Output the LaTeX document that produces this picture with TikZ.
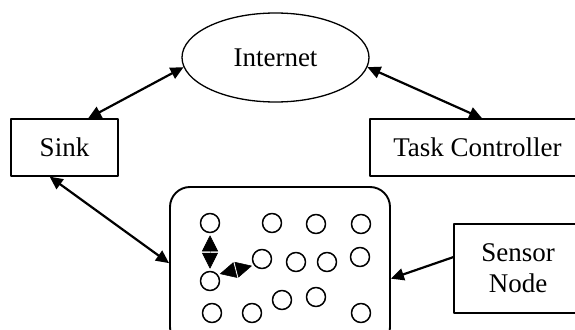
\documentclass[tikz,border=0pt]{standalone}
\usepackage{fontspec}
\setmainfont{Liberation Serif}
\usetikzlibrary{arrows.meta}
\usetikzlibrary{shapes.geometric}
\usetikzlibrary{positioning}

\begin{document}
\begin{tikzpicture}[
		x=1pt, y=-1pt,
		line join=round,
		every node/.style={font=\fontsize{27}{31}\selectfont, inner sep=0pt},
		box/.style={draw, rectangle, line width=1.3pt},
		mote/.style={draw, circle, line width=1.5pt, minimum size=19pt},
		link/.style={{Triangle[length=13pt,width=12pt]}-{Triangle[length=13pt,width=12pt]}, line width=2.2pt},
		feed/.style={-{Triangle[length=13pt,width=12pt]}, line width=2.2pt},
		hop/.style={{Triangle[length=16pt,width=16pt,color=black]}-{Triangle[length=16pt,width=16pt,color=black]}, line width=0.5pt, gray!70, dashed, shorten <=2pt, shorten >=2pt}
	]
	\useasboundingbox (0,0) rectangle (575,329);

	% Top level
	\node[draw, ellipse, line width=1.3pt, minimum width=187pt, minimum height=89pt] (internet) at (275.5,57.5) {Internet};
	\node[box, minimum width=107pt, minimum height=57pt] (sink) at (64.5,147.5) {Sink};
	\node[box, minimum width=215pt, minimum height=57pt] (task) at (477.5,147.5) {Task Controller};

	% Sensor field
	\node[draw, rounded corners=20pt, line width=1.9pt, minimum width=220pt, minimum height=160pt] (field) at (280,267) {};
	\node[box, align=center, minimum width=128pt, minimum height=89pt] (sensor) at (518,268.5) {Sensor\\Node};

	% Motes
	\foreach \n/\x/\y in {
			1/210/223, 2/272/223, 3/316/224, 4/361/224,
			5/262/259, 6/296/262, 7/327/262, 8/360/257,
			9/210/281,
			10/212/313, 11/252/313, 12/282/300, 13/316/297, 14/361/313}{
			\node[mote] (c\n) at (\x,\y) {};
		}

	% Links
	\draw[link] (internet.186) -- (sink.51);
	\draw[link] (internet.-6) -- (task.81);
	\draw[link] (sink.-117) -- (field.178);
	\draw[feed] (sensor.170) -- (field.-6);

	% Hops between motes
	\draw[hop] (c1.south) -- (c9.north);
	\draw[hop] (c9.40) -- (c5.218);
\end{tikzpicture}
\end{document}
